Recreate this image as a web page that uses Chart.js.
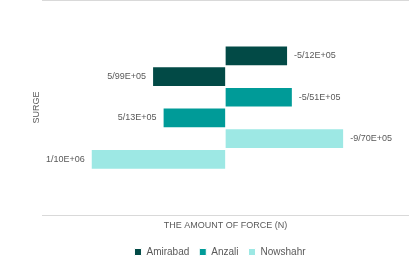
<!DOCTYPE html>
<html>
<head>
<meta charset="utf-8">
<script src="https://cdn.jsdelivr.net/npm/chart.js@4"></script>
<style>
  html, body { margin: 0; padding: 0; background: #fff; }
  #wrap { width: 409px; height: 273px; }
</style>
</head>
<body>
<div id="wrap"><canvas id="chart"></canvas></div>
<script>
// === DATA ===
const stations = ['Amirabad', 'Anzali', 'Nowshahr'];
const negativeForce = [-5.12e5, -5.51e5, -9.70e5];
const positiveForce = [5.99e5, 5.13e5, 1.10e6];
const colors = ['#024a46', '#009b98', '#9de8e4'];

// two bars per station, negative one first (top)
const datasets = [];
stations.forEach((name, i) => {
  [negativeForce[i], positiveForce[i]].forEach(v => {
    datasets.push({
      label: name,
      data: [v],
      backgroundColor: colors[i],
      borderColor: '#fff',
      borderWidth: 1
    });
  });
});

// 5.99e+5 -> 5/99E+05
function fmt(v) {
  const parts = v.toExponential(2).split('e');
  const sign = parts[1][0];
  let exp = parts[1].slice(1);
  if (exp.length < 2) exp = '0' + exp;
  return parts[0].replace('.', '/') + 'E' + sign + exp;
}

const barLabels = {
  id: 'barLabels',
  afterDatasetsDraw(chart) {
    const ctx = chart.ctx;
    ctx.save();
    ctx.font = '9px "Liberation Sans", Arial, sans-serif';
    ctx.fillStyle = '#595959';
    ctx.textBaseline = 'middle';
    chart.data.datasets.forEach((ds, di) => {
      const meta = chart.getDatasetMeta(di);
      if (meta.hidden) return;
      meta.data.forEach((el, j) => {
        const txt = fmt(ds.data[j]);
        if (el.x > el.base) {
          ctx.textAlign = 'left';
          ctx.fillText(txt, el.x + 6, el.y);
        } else {
          ctx.textAlign = 'right';
          ctx.fillText(txt, el.x - 6, el.y);
        }
      });
    });
    ctx.restore();
  }
};

new Chart(document.getElementById('chart'), {
  type: 'bar',
  data: {
    labels: ['Surge'],
    datasets: datasets
  },
  plugins: [barLabels],
  options: {
    indexAxis: 'y',
    responsive: true,
    maintainAspectRatio: false,
    animation: false,
    layout: {
      padding: { left: 31, right: 0, top: 0, bottom: 6 }
    },
    datasets: {
      bar: { categoryPercentage: 0.577, barPercentage: 1 }
    },
    scales: {
      x: {
        reverse: true,
        min: -1.5e6,
        max: 1.5e6,
        ticks: { display: false },
        grid: { display: false, drawTicks: false },
        border: { display: false },
        title: {
          display: true,
          text: 'THE AMOUNT OF FORCE (N)',
          color: '#595959',
          font: { family: '"Liberation Sans", Arial, sans-serif', size: 9 },
          padding: { top: 5, bottom: 6 }
        }
      },
      y: {
        ticks: { display: false },
        grid: { color: '#d9d9d9', drawTicks: false, offset: true },
        border: { display: false },
        title: {
          display: true,
          text: 'SURGE',
          color: '#595959',
          font: { family: '"Liberation Sans", Arial, sans-serif', size: 9 },
          padding: 0
        }
      }
    },
    plugins: {
      tooltip: { enabled: true },
      legend: {
        position: 'bottom',
        labels: {
          boxWidth: 7,
          boxHeight: 7,
          padding: 10,
          color: '#595959',
          font: { family: '"Liberation Sans", Arial, sans-serif', size: 10 },
          filter: item => item.datasetIndex % 2 === 0
        }
      }
    }
  }
});
</script>
</body>
</html>
